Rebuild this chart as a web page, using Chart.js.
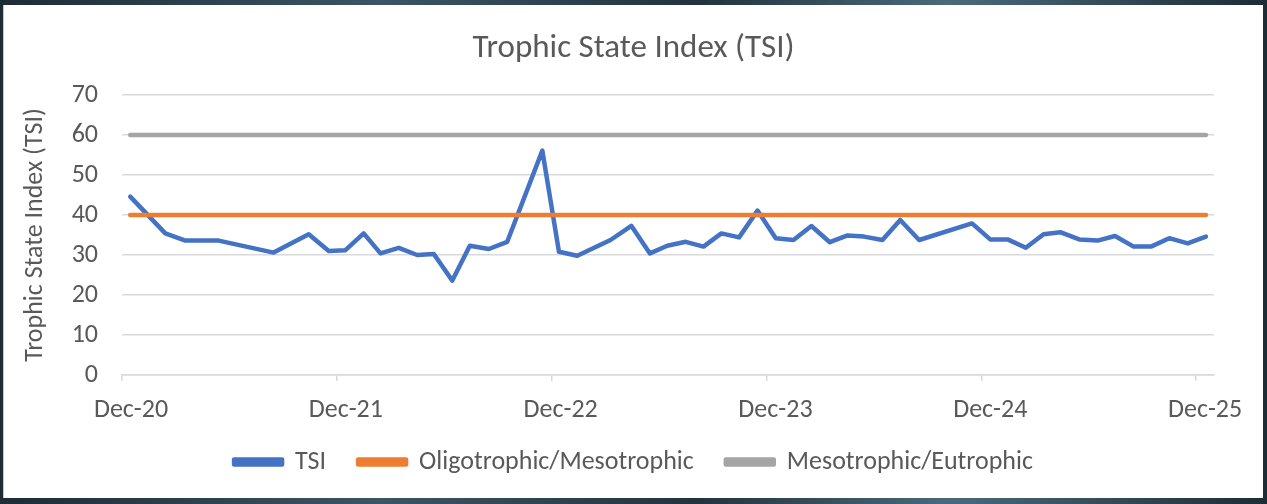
<!DOCTYPE html>
<html>
<head>
<meta charset="utf-8">
<script src="https://cdn.jsdelivr.net/npm/chart.js@4.4.1/dist/chart.umd.min.js"></script>
<style>
  html, body { margin: 0; padding: 0; }
  body {
    width: 1267px; height: 504px; overflow: hidden; position: relative;
    background: linear-gradient(90deg, #1d2c35 0%, #3b5566 30%, #22333d 55%, #4a6a7c 75%, #1d2c35 100%);
  }
  #frame {
    position: absolute; left: 3px; top: 5px; width: 1259px; height: 493px;
    background: #fff; border-left: 1px solid #c8c8c8;
  }
</style>
</head>
<body>
<div id="frame"><canvas id="tsiChart"></canvas></div>
<script>
// months counted from 1 Dec 2020
const sampleMonths = [0.46, 2.42, 3.54, 5.40, 8.47, 10.43, 11.55, 12.48, 13.50, 14.44,
  15.46, 16.49, 17.42, 18.45, 19.43, 20.49, 21.52, 23.48, 24.41, 25.43,
  27.29, 28.45, 29.49, 30.46, 31.49, 32.48, 33.48, 34.47, 35.50, 36.52,
  37.51, 38.51, 39.54, 40.53, 41.45, 42.48, 43.47, 44.53, 47.48, 48.50,
  49.47, 50.49, 51.48, 52.41, 53.47, 54.50, 55.47, 56.51, 57.48, 58.50,
  59.53, 60.55];
const tsiValues = [44.6, 35.4, 33.6, 33.6, 30.6, 35.2, 31.0, 31.2, 35.4, 30.4,
  31.8, 30.0, 30.25, 23.6, 32.3, 31.5, 33.3, 56.1, 30.8, 29.8,
  33.75, 37.3, 30.4, 32.3, 33.3, 32.1, 35.4, 34.4, 41.1, 34.2,
  33.75, 37.25, 33.2, 34.9, 34.6, 33.75, 38.75, 33.75, 37.9, 33.9,
  33.9, 31.8, 35.2, 35.7, 33.9, 33.6, 34.75, 32.1, 32.1, 34.2,
  32.9, 34.6];

// threshold lines run from first to last sample
const thresholdMonths = [0.46, 60.55];
const oligoMeso = [40, 40];
const mesoEu = [60, 60];

const tickMonths = [0, 12, 24, 36, 48, 60];
const tickLabels = ['Dec-20', 'Dec-21', 'Dec-22', 'Dec-23', 'Dec-24', 'Dec-25'];

const textColor = '#595959';
const gridColor = '#d9d9d9';
const fontFamily = "Carlito, 'Open Sans', sans-serif";

function toPoints(xs, ys) {
  return xs.map((x, i) => ({ x: x, y: ys[i] }));
}

const lineStyle = { borderWidth: 4.5, pointRadius: 0, tension: 0, borderJoinStyle: 'round', borderCapStyle: 'round' };

const ctx = document.getElementById('tsiChart').getContext('2d');

new Chart(ctx, {
  type: 'line',
  data: {
    datasets: [
      Object.assign({ label: 'TSI', data: toPoints(sampleMonths, tsiValues), borderColor: '#4472c4', backgroundColor: '#4472c4', order: 3 }, lineStyle),
      Object.assign({ label: 'Oligotrophic/Mesotrophic', data: toPoints(thresholdMonths, oligoMeso), borderColor: '#ed7d31', backgroundColor: '#ed7d31', order: 2 }, lineStyle),
      Object.assign({ label: 'Mesotrophic/Eutrophic', data: toPoints(thresholdMonths, mesoEu), borderColor: '#a5a5a5', backgroundColor: '#a5a5a5', order: 1 }, lineStyle)
    ]
  },
  options: {
    responsive: true,
    maintainAspectRatio: false,
    animation: false,
    layout: { padding: { left: 0, right: 0, top: 0, bottom: 13 } },
    plugins: {
      title: {
        display: true,
        text: 'Trophic State Index (TSI)',
        color: textColor,
        font: { family: fontFamily, size: 33, weight: 'normal' },
        padding: { top: 24, bottom: 26.4 }
      },
      legend: {
        position: 'bottom',
        labels: {
          color: textColor,
          font: { family: fontFamily, size: 26 },
          boxWidth: 48,
          boxHeight: 5,
          padding: 32,
          sort: (a, b) => a.datasetIndex - b.datasetIndex
        }
      },
      tooltip: { enabled: false }
    },
    scales: {
      x: {
        type: 'linear',
        min: 0,
        max: 61,
        afterBuildTicks: scale => { scale.ticks = tickMonths.map(v => ({ value: v })); },
        afterFit: scale => { scale.height = 42; },
        ticks: {
          autoSkip: false,
          maxRotation: 0,
          color: textColor,
          font: { family: fontFamily, size: 26, lineHeight: 1 },
          padding: 16,
          labelOffset: 9,
          callback: (value, index) => tickLabels[index]
        },
        grid: { drawOnChartArea: false, drawTicks: true, tickLength: 6, color: gridColor, lineWidth: 1.5 },
        border: { color: gridColor, width: 1.5 }
      },
      y: {
        min: 0,
        max: 70,
        afterFit: scale => { scale.width = 118; },
        ticks: {
          stepSize: 10,
          color: textColor,
          font: { family: fontFamily, size: 26 },
          padding: 24
        },
        grid: { color: gridColor, lineWidth: 1.5, drawTicks: false },
        border: { display: false },
        title: {
          display: true,
          text: 'Trophic State Index (TSI)',
          color: textColor,
          font: { family: fontFamily, size: 26 },
          padding: { top: 16, bottom: 0 }
        }
      },
      // empty right-hand margin so the plot ends where the original does
      spacer: {
        position: 'right',
        afterFit: scale => { scale.width = 49; },
        ticks: { display: false },
        grid: { display: false },
        border: { display: false }
      }
    }
  }
});
</script>
</body>
</html>
